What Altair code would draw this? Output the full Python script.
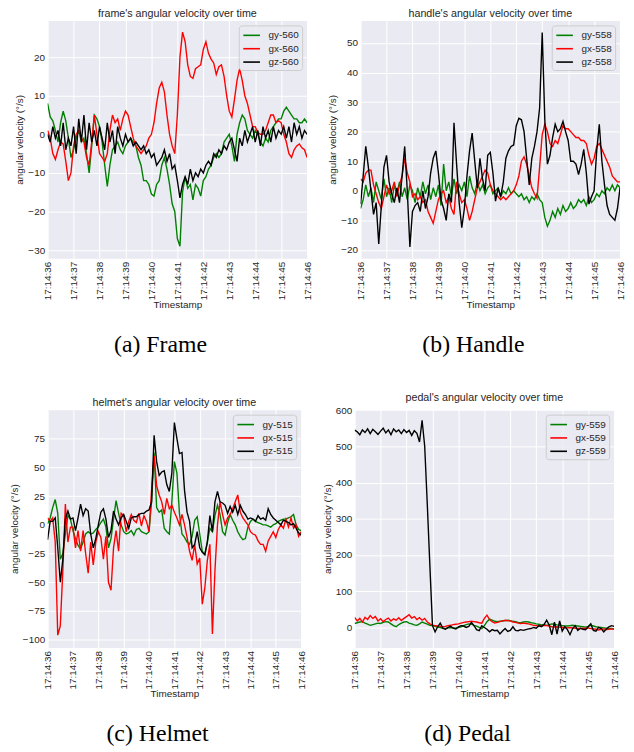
import altair as alt
import pandas as pd

T0 = 36.0
DT = 0.1
XTICKS = [36, 37, 38, 39, 40, 41, 42, 43, 44, 45, 46]

# ---------------- frame (sensor 560) ----------------
frame_gy = [8, 4.5, 3.5, 1, -2, 3, 6, 3.5, -1, -6,
            -4, -1, 1, -2, -1, -5, -10, -3, 5, 4,
            2, -2, -8, -13.5, -8, -4, -3, -2, -4, -5,
            -3, -2, -1, -2, -3, -6, -8, -12, -12, -13,
            -15.5, -16, -13, -12, -8, -6, -9, -13, -18, -20,
            -27, -29, -15, -11, -14, -13, -17, -13, -14, -16,
            -12, -11, -9, -8, -6, -5, -6, -5, -2, -1,
            0, -3, -7, 0, 3, 5, 4, 1, 0, -1,
            1, 0, -2, -3, -1, -2, 1, 2, 3, 4,
            4, 6, 7, 6, 5, 4, 4, 3, 3, 4,
            3]
frame_gx = [1, -1, -5, -6.5, -4, -2, -2.5, -7, -12, -10,
            -3, 0, 1, -1, -2, -6, -8, -2, 5, 0,
            -5, -6, -7, -5, 1, 5, 3, 4, 1, 4,
            6, 5, 2, -1, -3, -4, -5, -4, -3, -1,
            0, 3, 8, 12, 13.5, 11, 5, 0, -3, -5,
            5, 20, 26.5, 24, 18, 15, 14.5, 17, 17.5, 18,
            22, 24, 21, 19.5, 18.5, 15.5, 17.5, 18, 15, 10,
            6, 4.5, 9, 14, 17, 14, 10, 8, 5, 2,
            2, 0.5, 0, 0, 1, 3, 5, 5, 3, 3.5,
            3, 0, -2, -5, -6, -4, -3, -2.5, -3.5, -4,
            -6]
frame_gz = [0, -2, 2, -1, 1, -3, 3, -4, -1, -3,
            2, -5, 4, -2, 5, -4, 3, -2, 1, -3,
            2, -1, -4, 3, -2, 1, -5, 2, -1, -3,
            0, -2, -1, -3, -2, -3, -4, -3, -5, -4,
            -6, -5, -8, -7, -6, -4, -7, -5, -9, -8,
            -12, -16.5, -13, -11, -13, -9, -12, -10, -11, -9,
            -10, -8, -7, -8, -5, -6, -4, -5, -3, -4,
            -2, -1, -4, -7, -1, -3, 1, -2, 0, 2,
            -2, 1, -3, 2, -1, 1, -2, 2, -1, 1,
            0, 2, -1, 2, -2, 3, 0, 2, -1, 1,
            0]

# ---------------- handle (sensor 558) ----------------
handle_gy = [-6, -3, 2, -2, 1, -4, 3, 0, -3, 4,
             -2, 1, -4, 2, -1, 3, -2, 1, -3, 2,
             0, -4, 1, -2, 3, -1, 2, -3, 1, -2,
             2, -5, 9, 0, 3, -2, 4, -1, 2, 0,
             3, -2, 5, 1, -1, 3, 0, 2, -1, 1,
             2, -1, 0, 1, -2, 0, -1, 1, -1, 0,
             -1, -2, -1, -3, -2, -4, -2, -3, -1, -3,
             -4, -9, -12, -10, -7, -9, -6, -8, -5, -7,
             -6, -4, -6, -5, -3, -4, -3, -5, -2, -4,
             -3, -1, -2, 0, -1, 1, 0, 2, 0, 2,
             1]
handle_gx = [4, 3, 6, 7, 7, 2, -1, -4, -6, -2,
             2, -1, 0, 3, -2, 2, 5, 11, 6, 3,
             -2, -1, -3, -2, -4, -3, -7, -9, -11, -7,
             -3, -1, 0, -4, -2, -6, -8, 3, -1, -4,
             -3, -6, -10, -7, -3, 1, 3, 5, 7, 6,
             2, 0, -1, -2, -3, -2, -3, -2, -1, 0,
             2, 5, 10, 11.5, 9, 5, 1, -1, -2.5, 8,
             19, 22.5, 20, 16, 15, 17, 16, 19, 22, 21,
             21, 20, 19, 18, 18, 17, 17, 16, 12, 9,
             11, 15, 16, 14, 12, 10, 8, 5, 4, 3,
             3]
handle_gz = [-4.5, 5, 15, 8, 0, -8, -4, -18, -5, 8,
             12, 3, -1, -4, 1, -4, 5, 15, 0, -19,
             -7, -5, -4, -7, 0, -6, -2, 6, 11, 13.5,
             6, -3, -6, -10, -1, -4, 23, 9, -4, -12.5,
             -6, 5, 13.5, 19.5, 10, 1, 11, 4, 0, 12,
             13, 6, -3.5, 1, -2, 3, 11, 13.5, 15, 15.5,
             22, 24.5, 24, 20, 11, 2, 11, 15, 20, 28,
             53.5, 24, 9, 12, 18, 22.5, 20, 21, 23.5, 20,
             17, 10, 10, 9, 5.5, 9, 14, 6, -4.5, -2,
             0, 13.5, 22.5, 10, 2, -5, -8, -9, -10, -6,
             1]

# ---------------- helmet (sensor 515) ----------------
helmet_gy = [1, 6, 15, 22, 10, -30, -25, -8, 8, 5,
             -5, -12, -18, -21, -15, -8, -6, -8, -7, -4,
             -2, 2, 5, -2, -20, -12, 5, 21, 10, 0,
             -6, -8, -7, -5, -9, -4, -3, -6, -7, -8,
             -6, 20, 63, 15, 11, 13, -3, -6, -8, 20,
             55, 45, 10, -8, -11, -15, -17, -10, 4, 7,
             -8, -23, -26, -15, -3, -6, 8, 17, 9, -6,
             -9, 2, 9, 4, 0, -6, -10, -13, -12, -2,
             3, 5, 3, 2, 1, 0, 0, -1, -2, 0,
             1, 3, 4, 5, 5, 6, 7, 9, 0, -4,
             -5]
helmet_gx = [6, 3, 6, -15, -96, -88, -40, 18, -15, -2,
             -2, -20, -5, -23, -5, -25, -42, -15, -35, -15,
             -6, -11, -30, -10, -50, -57, -20, -5, -23, 10,
             8, -6, 3, 9, 4, 2, 10, -1, 8, 3,
             -6, 30, 60, 34, 26, 20, 9, 23, 14, 17,
             11, 6, 0, 9, 0, -11, -23, -31, -17, -34,
             -29, -69, -55, -31, -17, -95, -40, 0, 20, 9,
             0, 6, 9, 14, 20, 26, 11, 6, 3, 0,
             -6, -8, -9, -14, -17, -17, -23, -14, -10, -6,
             -11, -4, 0, -3, 5, -2, 6, -3, 0, -10,
             -6]
helmet_gz = [-13, 3, 3, 6, -20, -50, -30, 5, 12, 5,
             6, -5, 6, 18, 8, 14, 12, -8, -20, -12,
             0, 11, 14, 5, -11, -5, 12, 5, 0, 6,
             9, 3, -3, 6, 7, 7, 9, 10, 10, 12,
             13, 20, 78, 55, 43, 46, 47, 35, 29, 45,
             89, 75, 62, 63, 30, 11, 3, -20, -17, -6,
             -20, -24, -26, -15, 8, -6, 20, 29, 20, 19,
             17, 10, 16, 11, 17, 9, 17, 12, 9, 5,
             6, 5, 3, 8, 5, 6, 4, 14, 9, 6,
             4, 2, 0, 4, 3, 2, 0, 1, -3, -7,
             -9]

# ---------------- pedal (sensor 559) ----------------
pedal_gy = [11, 13, 15, 16, 12, 9, 6, 8, 10, 12,
            11, 14, 16, 15, 10, 5, 2, 8, 12, 15,
            16, 12, 10, 7, 6, 10, 15, 12, 9, 6,
            5, 3, 1, 0, -2, -3, -1, 0, -1, -2,
            0, 2, 5, 8, 10, 9, 6, 4, 0, -3,
            5, 16, 23, 20, 17, 16, 17, 18, 19, 20,
            19, 17, 16, 14, 13, 15, 16, 15, 13, 12,
            10, 9, 7, 8, 6, 8, 10, 9, 7, 6,
            5, 4, 4, 5, 6, 5, 4, 3, 2, 1,
            3, 6, 4, 2, 1, 0, -1, -2, -3, -3,
            -4]
pedal_gx = [28, 18, 25, 15, 28, 22, 33, 25, 30, 18,
            24, 16, 22, 26, 18, 24, 20, 27, 19, 25,
            30, 35, 26, 30, 22, 27, 20, 25, 15, 10,
            6, 5, 4, 3, 2, 3, 5, 6, 8, 9,
            10, 12, 14, 15, 16, 17, 16, 15, 13, 12,
            25, 34, 22, 16, 12, 14, 16, 18, 20, 19,
            18, 15, 14, 12, 11, 12, 11, 10, 8, 6,
            5, 4, 5, 6, 5, 4, 2, 1, 2, 1,
            0, 0, -1, 0, -1, -2, -3, -2, -3, -2,
            -1, -3, -4, -5, -7, -5, -4, -6, -5, -4,
            -5]
pedal_gz = [545, 540, 532, 545, 538, 548, 535, 547, 540, 533,
            542, 550, 537, 545, 532, 548, 540, 545, 535, 546,
            538, 544, 530, 543, 536, 512, 572, 500, 340, 170,
            5, -12, 2, 12, -2, -5, 0, 3, -2, -4,
            2, 5, 4, 0, 3, 14, 5, -6, -9, 5,
            0, -5, -12, -6, -9, -8, -18, -10, -3, -11,
            -8, 2, -8, -9, -6, -8, -6, -4, -3, 0,
            -2, 5, 2, 8, 20, 6, -20, 15, -18, 18,
            -10, 2, -6, -20, -3, 5, -8, -2, -5, -6,
            2, 10, -8, -10, 0, -3, -12, -4, 2, 5,
            3]

COLORS = ["#008000", "#ff0000", "#000000"]
TEXT = "#262626"
SANS = "Liberation Sans"
PW = 262   # plot width
PH = 240   # plot height


def make_df(sid, gy, gx, gz):
    rows = []
    for name, vals in (("gy", gy), ("gx", gx), ("gz", gz)):
        for i, v in enumerate(vals):
            rows.append({"t": round(T0 + DT * i, 2), "v": v, "s": f"{name}-{sid}"})
    return pd.DataFrame(rows)


def panel(title, sid, gy, gx, gz, ydom, yticks, w, h, caption):
    df = make_df(sid, gy, gx, gz)
    names = [f"gy-{sid}", f"gx-{sid}", f"gz-{sid}"]
    lines = alt.Chart(df).mark_line(strokeWidth=1.4, clip=True).encode(
        x=alt.X("t:Q",
                scale=alt.Scale(domain=[36, 46], nice=False, zero=False),
                axis=alt.Axis(values=XTICKS, labelExpr="'17:14:' + datum.value",
                              labelAngle=270, labelFlush=False, labelOverlap=False,
                              title="Timestamp", titlePadding=0)),
        y=alt.Y("v:Q",
                scale=alt.Scale(domain=ydom, nice=False, zero=False),
                axis=alt.Axis(values=yticks, title="angular velocity (°/s)",
                              labelFlush=False, labelOverlap=False, titlePadding=3)),
        color=alt.Color("s:N",
                        scale=alt.Scale(domain=names, range=COLORS),
                        legend=alt.Legend(title=None, orient="top-right", offset=5,
                                          symbolType="M-0.9,0L1.9,0", symbolSize=144,
                                          symbolStrokeWidth=1.6, labelOffset=13,
                                          padding=3, rowPadding=1.5,
                                          fillColor="rgba(234,234,242,0.8)",
                                          strokeColor="#cccccc", cornerRadius=3,
                                          labelFont=SANS, labelFontSize=10,
                                          labelColor=TEXT)),
    )
    cap = alt.Chart(pd.DataFrame({"c": [caption]})).mark_text(
        font="Liberation Serif", fontSize=24, align="center", baseline="middle",
        color="black", clip=False
    ).encode(text="c:N", x=alt.value(w / 2 - 17), y=alt.value(h + 88))
    return alt.layer(lines, cap).properties(width=w, height=h, title=title)


pa = panel("frame's angular velocity over time", 560, frame_gy, frame_gx, frame_gz,
           [-32.1, 29.5], [-30, -20, -10, 0, 10, 20], PW, PH, "(a) Frame")
pb = panel("handle's angular velocity over time", 558, handle_gy, handle_gx, handle_gz,
           [-22.8, 57.6], [-20, -10, 0, 10, 20, 30, 40, 50], PW, PH, "(b) Handle")
pc = panel("helmet's angular velocity over time", 515, helmet_gy, helmet_gx, helmet_gz,
           [-106.7, 100.2], [-100, -75, -50, -25, 0, 25, 50, 75], PW - 6, PH, "(c) Helmet")
pd_ = panel("pedal's angular velocity over time", 559, pedal_gy, pedal_gx, pedal_gz,
            [-55, 601], [0, 100, 200, 300, 400, 500, 600], PW, PH, "(d) Pedal")

top = alt.hconcat(pa, pb, spacing=14).resolve_scale(color="independent").resolve_legend(color="independent")
bottom = alt.hconcat(pc, pd_, spacing=14).resolve_scale(color="independent").resolve_legend(color="independent")

chart = alt.vconcat(top, bottom, spacing=34).resolve_scale(color="independent").resolve_legend(color="independent").properties(
    padding={"left": 0, "top": -5, "right": 0, "bottom": 0}
).configure_view(
    fill="#EAEAF2", stroke="transparent"
).configure_axis(
    grid=True, gridColor="#ffffff", gridWidth=1, domain=False, ticks=False,
    labelFont=SANS, labelFontSize=10, labelColor=TEXT, labelPadding=3,
    titleFont=SANS, titleFontSize=10, titleFontWeight="normal", titleColor=TEXT,
).configure_title(
    font=SANS, fontSize=10.8, fontWeight="normal", color=TEXT, offset=2,
    anchor="middle", frame="group"
)

chart.save("out.html", embed_options={"renderer": "svg", "actions": False})
